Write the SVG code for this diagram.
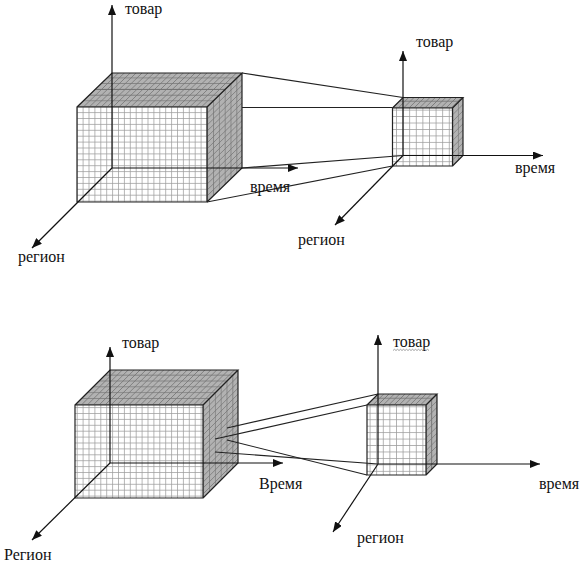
<svg xmlns="http://www.w3.org/2000/svg" width="582" height="564" viewBox="0 0 582 564">
<style>
.edge{fill:none;stroke:#222;stroke-width:1.2;stroke-linejoin:miter}
.axis{fill:none;stroke:#111;stroke-width:1.2;marker-end:url(#arr)}
.conn{fill:none;stroke:#222;stroke-width:1.2}
.lbl{font-family:"Liberation Serif","Times New Roman",serif;font-size:16px;fill:#111}
</style>
<defs>
<marker id="arr" markerUnits="userSpaceOnUse" markerWidth="10" markerHeight="8" refX="10" refY="4" orient="auto">
<path d="M0,0 L10,4 L0,8 z" fill="#111"/>
</marker>
<pattern id="gw" patternUnits="userSpaceOnUse" width="5.9" height="5.9">
<rect width="5.9" height="5.9" fill="#fff"/>
<path d="M0.4,0V5.9M0,0.4H5.9" stroke="#9a9a9a" stroke-width="0.8"/>
</pattern>
<pattern id="gs" patternUnits="userSpaceOnUse" width="5.9" height="5.9">
<rect width="5.9" height="5.9" fill="#b2b2b2"/>
<path d="M0.4,0V5.9M0,0.4H5.9" stroke="#737373" stroke-width="0.8"/>
</pattern>
<pattern id="gw2" patternUnits="userSpaceOnUse" width="6.6" height="6.45">
<rect width="6.6" height="6.45" fill="#fff"/>
<path d="M0.4,0V6.45M0,0.4H6.6" stroke="#9a9a9a" stroke-width="0.8"/>
</pattern>
<pattern id="gs2" patternUnits="userSpaceOnUse" width="5.3" height="6.45">
<rect width="5.3" height="6.45" fill="#b2b2b2"/>
<path d="M0.4,0V6.45M0,0.4H6.6" stroke="#737373" stroke-width="0.8"/>
</pattern>
</defs>
<rect width="582" height="564" fill="#fff"/>

<g id="cube-top-big">
<rect x="77" y="107" width="130" height="95" fill="url(#gw)"/>
<rect transform="matrix(1,0,1,-0.9714,77,107)" width="130" height="35" fill="url(#gs)"/>
<rect transform="matrix(1,-0.9714,0,1,207,107)" width="35" height="95" fill="url(#gs)"/>
<path class="edge" d="M77,107H207V202H77Z M77,107L112,73H242L207,107 M242,73V168L207,202"/>
</g>

<g id="cube-top-small">
<rect x="392.5" y="108" width="60" height="58" fill="url(#gw2)"/>
<rect transform="matrix(1,0,1,-1,392.5,108)" width="60" height="10.5" fill="url(#gs2)"/>
<rect transform="matrix(1,-1,0,1,452.5,108)" width="10.5" height="58" fill="url(#gs2)"/>
<path class="edge" d="M392.5,108H452.5V166H392.5Z M392.5,108L403,97.5H463L452.5,108 M463,97.5V155.5L452.5,166"/>
</g>

<g id="cube-bottom-big">
<rect x="75" y="405" width="128" height="93" fill="url(#gw)"/>
<rect transform="matrix(1,0,1,-1,75,405)" width="128" height="35" fill="url(#gs)"/>
<rect transform="matrix(1,-1,0,1,203,405)" width="35" height="93" fill="url(#gs)"/>
<path class="edge" d="M75,405H203V498H75Z M75,405L110,370H238L203,405 M238,370V463L203,498"/>
</g>

<g id="cube-bottom-small">
<rect x="367" y="405" width="59" height="70" fill="url(#gw2)"/>
<rect transform="matrix(1,0,1,-1,367,405)" width="59" height="11" fill="url(#gs2)"/>
<rect transform="matrix(1,-1,0,1,426,405)" width="11" height="70" fill="url(#gs2)"/>
<path class="edge" d="M367,405H426V475H367Z M367,405L378,394H437L426,405 M437,394V464L426,475"/>
</g>

<g id="axes">
<path class="axis" d="M112,168V5"/>
<path class="axis" d="M112,168H298"/>
<path class="axis" d="M112,168L32,248"/>
<path class="axis" d="M403,155.5V51"/>
<path class="axis" d="M403,155.5H543"/>
<path class="axis" d="M403,155.5L335,225"/>
<path class="axis" d="M110,463V347"/>
<path class="axis" d="M110,463H283"/>
<path class="axis" d="M110,463L32,540"/>
<path class="axis" d="M378,464V335"/>
<path class="axis" d="M378,464H540"/>
<path class="axis" d="M378,464L333,532"/>
</g>

<g id="connectors">
<path class="conn" d="M242,73L403,97.5"/>
<path class="conn" d="M242,107.5H392.5"/>
<path class="conn" d="M242,168L403,155.5"/>
<path class="conn" d="M207,202L392.5,166"/>
<path class="conn" d="M227,428L378,394"/>
<path class="conn" d="M215,439L367,405"/>
<path class="conn" d="M227,440L367,475"/>
<path class="conn" d="M215,452L378,464"/>
</g>

<g id="labels">
<text class="lbl" x="125" y="14">товар</text>
<text class="lbl" x="250" y="192">время</text>
<text class="lbl" x="18" y="262">регион</text>
<text class="lbl" x="416" y="47">товар</text>
<text class="lbl" x="515" y="173">время</text>
<text class="lbl" x="298" y="245">регион</text>
<text class="lbl" x="122" y="348">товар</text>
<text class="lbl" x="259" y="489">Время</text>
<text class="lbl" x="4" y="560">Регион</text>
<text class="lbl" x="393" y="347">товар</text>
<path d="M393,350.5l1.5,-1.2l1.5,1.2l1.5,-1.2l1.5,1.2l1.5,-1.2l1.5,1.2l1.5,-1.2l1.5,1.2l1.5,-1.2l1.5,1.2l1.5,-1.2l1.5,1.2l1.5,-1.2l1.5,1.2l1.5,-1.2l1.5,1.2l1.5,-1.2l1.5,1.2l1.5,-1.2l1.5,1.2l1.5,-1.2l1.5,1.2l1.5,-1.2l1.5,1.2" fill="none" stroke="#8a8a8a" stroke-width="0.8"/>
<text class="lbl" x="357" y="543">регион</text>
<text class="lbl" x="539" y="489">время</text>
</g>
</svg>
